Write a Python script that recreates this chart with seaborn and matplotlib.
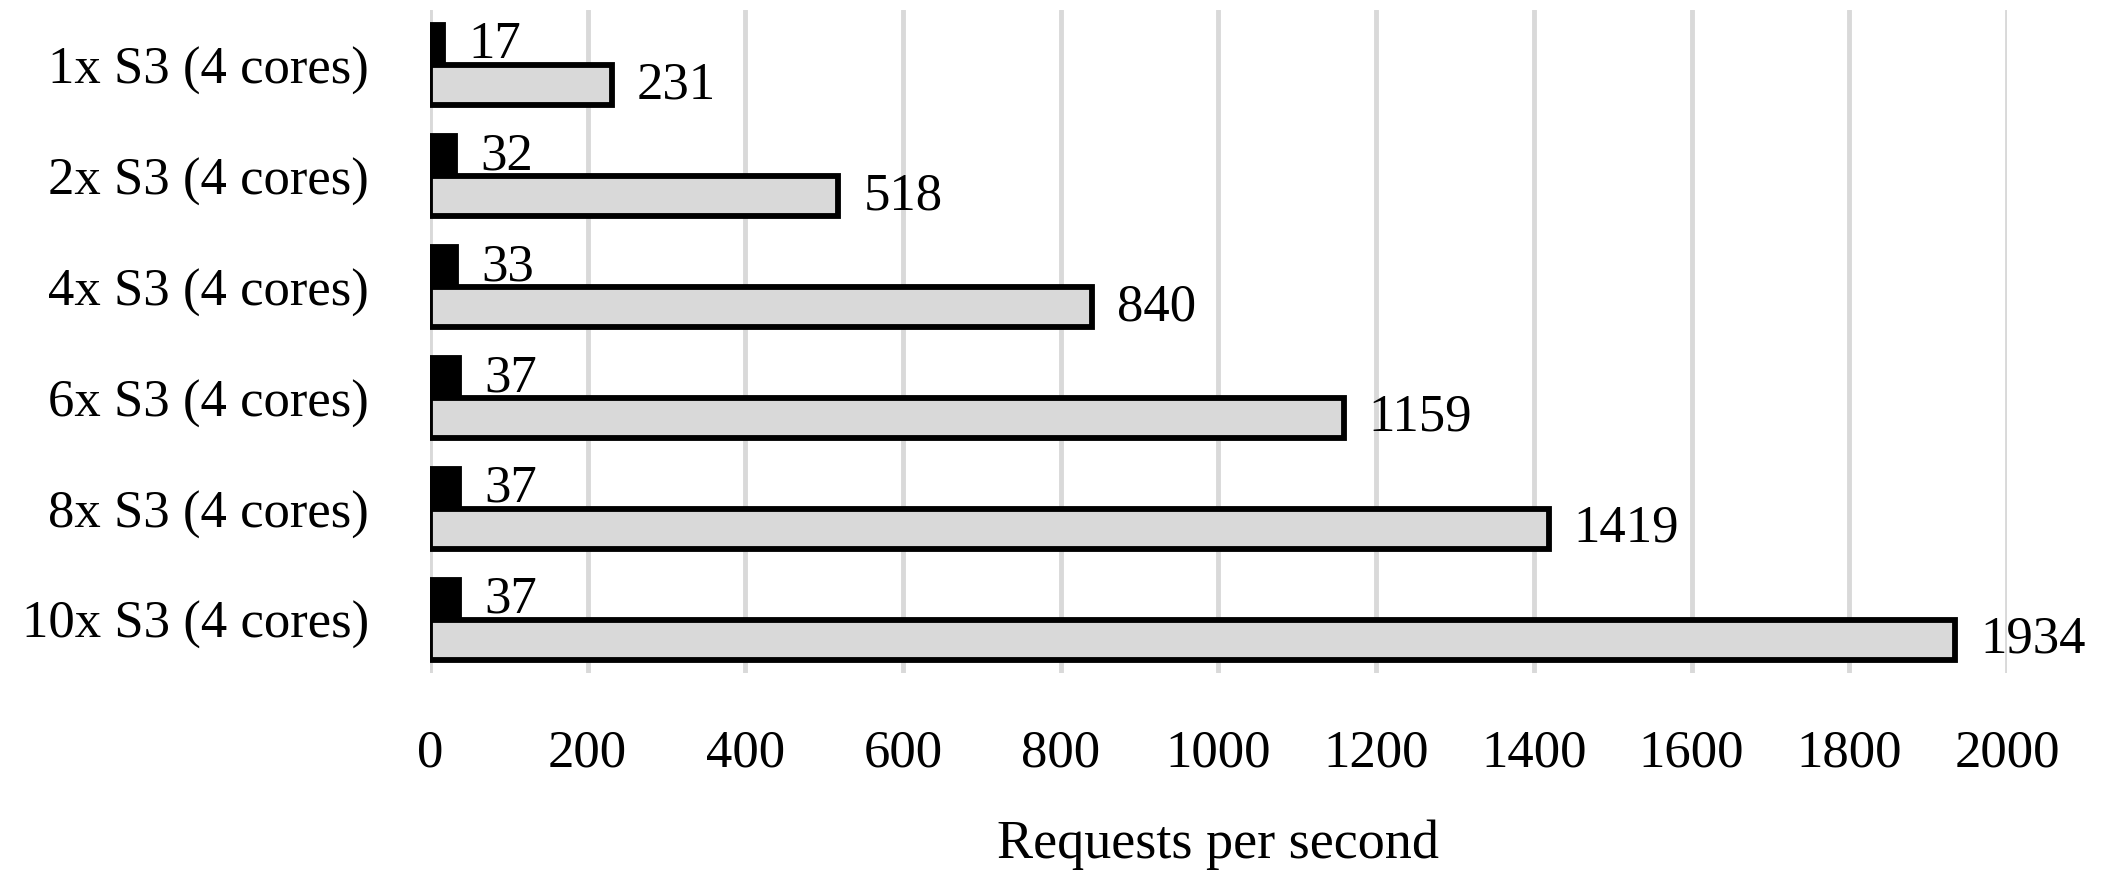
import pandas as pd
import seaborn as sns
import matplotlib.pyplot as plt

# values
configs = ["1x S3 (4 cores)", "2x S3 (4 cores)", "4x S3 (4 cores)",
           "6x S3 (4 cores)", "8x S3 (4 cores)", "10x S3 (4 cores)"]
single = [17, 32, 33, 37, 37, 37]
cluster = [231, 518, 840, 1159, 1419, 1934]
series = ["single", "cluster"]

df = pd.DataFrame({
    "config": configs * 2,
    "rps": single + cluster,
    "series": [series[0]] * len(configs) + [series[1]] * len(configs),
})

sns.set_style("white", {"text.color": "black", "axes.labelcolor": "black",
                        "xtick.color": "black", "ytick.color": "black"})
plt.rcParams["font.family"] = ["Liberation Serif", "DejaVu Serif"]
fs = 38

fig = plt.figure(figsize=(21.22, 8.74), dpi=100)
ax = fig.add_axes([0.2026, 0.23, 0.7432, 0.7586])

sns.barplot(data=df, y="config", x="rps", hue="series", orient="h",
            palette={"single": "black", "cluster": "#d9d9d9"},
            width=0.72, edgecolor="black", linewidth=4.2, legend=False, ax=ax)

# gray bars sit on top of the black bars' labels, as in the reference
for bar in ax.containers[1]:
    bar.set_zorder(3)
ax.bar_label(ax.containers[0], padding=18, fontsize=fs, zorder=2)
ax.bar_label(ax.containers[1], padding=18, fontsize=fs, zorder=4)

ax.set_xlim(0, 2000)
ax.set_ylim(5.48, -0.50)
ax.set_xticks(range(0, 2001, 200))
ax.grid(axis="x", color="#d9d9d9", linewidth=3.5)
ax.set_axisbelow(True)
sns.despine(ax=ax, left=True, bottom=True)
ax.tick_params(axis="x", labelsize=fs, pad=41, length=0)
ax.tick_params(axis="y", labelsize=fs, pad=44, length=0)
ax.set_ylabel("")
ax.set_xlabel("Requests per second", fontsize=fs + 1, labelpad=30)

plt.savefig("out.png", dpi=100)
